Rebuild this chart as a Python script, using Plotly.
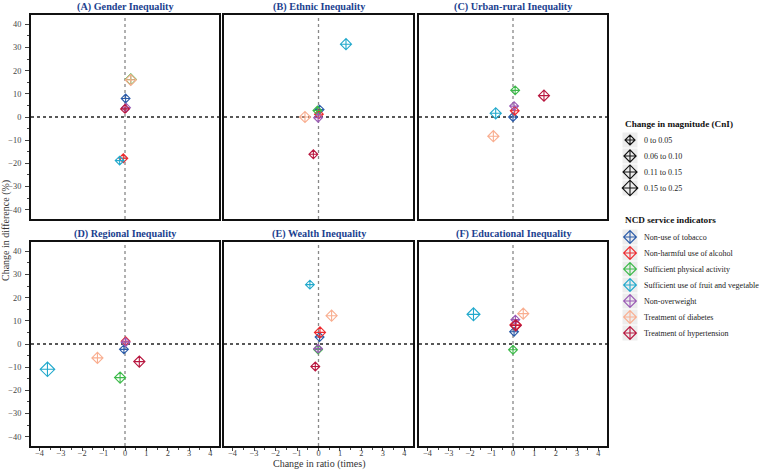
import plotly.graph_objects as go
from plotly.subplots import make_subplots

panels = ["(A) Gender Inequality", "(B) Ethnic Inequality", "(C) Urban-rural Inequality",
          "(D) Regional Inequality", "(E) Wealth Inequality", "(F) Educational Inequality"]

indicators = ["Non-use of tobacco", "Non-harmful use of alcohol", "Sufficient physical activity",
              "Sufficient use of fruit and vegetable", "Non-overweight", "Treatment of diabetes",
              "Treatment of hypertension"]
colors = ["#2B5BA8", "#EE2A2F", "#3DBA4A", "#22A9CC", "#9B5BB5", "#F9AE90", "#B8173F"]

size_labels = ["0 to 0.05", "0.06 to 0.10", "0.11 to 0.15", "0.15 to 0.25"]

# change in ratio (x) per indicator, per panel A..F
ratio = {
    "Non-use of tobacco":                    [0.03, 0.05, 0.00, -0.05, 0.05, 0.05],
    "Non-harmful use of alcohol":            [-0.08, 0.02, 0.08, 0.03, 0.07, 0.12],
    "Sufficient physical activity":          [0.27, -0.05, 0.10, -0.23, -0.02, 0.00],
    "Sufficient use of fruit and vegetable": [-0.25, 1.28, -0.81, -3.63, -0.40, -1.85],
    "Non-overweight":                        [0.05, -0.02, 0.05, 0.03, -0.02, 0.11],
    "Treatment of diabetes":                 [0.27, -0.63, -0.92, -1.29, 0.61, 0.48],
    "Treatment of hypertension":             [0.00, -0.24, 1.45, 0.67, -0.15, 0.13],
}
# change in difference (%) (y)
diff = {
    "Non-use of tobacco":                    [8.0, 3.2, 0.0, -2.3, 3.0, 5.3],
    "Non-harmful use of alcohol":            [-17.8, 1.2, 2.7, 1.2, 5.0, 8.3],
    "Sufficient physical activity":          [16.2, 2.8, 11.5, -14.5, -2.4, -2.5],
    "Sufficient use of fruit and vegetable": [-18.8, 31.4, 1.6, -10.9, 25.6, 12.8],
    "Non-overweight":                        [4.0, -0.3, 4.7, 0.8, -2.0, 10.5],
    "Treatment of diabetes":                 [16.0, 0.0, -8.3, -6.0, 12.2, 13.1],
    "Treatment of hypertension":             [3.5, -16.1, 9.2, -7.6, -9.7, 8.0],
}
# change in magnitude category (0..3)
magnitude = {
    "Non-use of tobacco":                    [0, 0, 0, 0, 0, 0],
    "Non-harmful use of alcohol":            [0, 0, 0, 0, 1, 1],
    "Sufficient physical activity":          [1, 0, 0, 1, 0, 0],
    "Sufficient use of fruit and vegetable": [0, 1, 1, 3, 0, 2],
    "Non-overweight":                        [0, 0, 0, 0, 0, 0],
    "Treatment of diabetes":                 [1, 1, 1, 1, 1, 1],
    "Treatment of hypertension":             [0, 0, 1, 1, 0, 1],
}

size_px = [6.8, 8.6, 10.0, 11.2]
legend_size_px = [7.7, 9.4, 10.8, 12.0]
SERIF = "Liberation Serif, Times New Roman, serif"

fig = make_subplots(rows=2, cols=3)

W, H = 762, 472
cols_px = [(31, 219), (224, 413), (419, 607)]
rows_px = [(15, 219), (242, 446)]

for i, name in enumerate(panels):
    r, c = divmod(i, 3)
    for k, ind in enumerate(indicators):
        fig.add_trace(go.Scatter(
            x=[ratio[ind][i]], y=[diff[ind][i]], mode="markers",
            name=ind, showlegend=False,
            marker=dict(symbol="diamond-cross-open", size=size_px[magnitude[ind][i]],
                        color=colors[k], line=dict(width=1.1, color=colors[k])),
        ), row=r + 1, col=c + 1)

annotations = []
for i, name in enumerate(panels):
    r, c = divmod(i, 3)
    idx = i + 1
    sfx = "" if idx == 1 else str(idx)
    x0, x1 = cols_px[c]
    y0, y1 = rows_px[r]
    fig.layout["xaxis" + sfx].update(
        domain=[x0 / W, x1 / W], range=[-4.4, 4.4], dtick=1, tick0=0, automargin=False,
        showline=True, mirror=True, linewidth=2, linecolor="#111",
        showgrid=False, zeroline=False,
        ticks="outside" if r == 1 else "", ticklen=3, tickcolor="#444",
        showticklabels=(r == 1), ticklabelstandoff=-5,
        minor=dict(dtick=0.5, ticklen=2, ticks="outside" if r == 1 else "", tickcolor="#444"),
        tickfont=dict(family=SERIF, size=8.3, color="#444"),
    )
    fig.layout["yaxis" + sfx].update(
        domain=[1 - y1 / H, 1 - y0 / H], range=[-44, 44], dtick=10, tick0=0, automargin=False,
        showline=True, mirror=True, linewidth=2, linecolor="#111",
        showgrid=False, zeroline=False,
        ticks="outside" if c == 0 else "", ticklen=4, tickcolor="#444",
        showticklabels=(c == 0), ticklabelstandoff=2,
        minor=dict(dtick=5, ticklen=2, ticks="outside" if c == 0 else "", tickcolor="#444"),
        tickfont=dict(family=SERIF, size=8.3, color="#444"),
    )
    fig.add_shape(type="line", x0=0, x1=0, y0=0, y1=1, xref="x" + sfx, yref="y" + sfx + " domain",
                  line=dict(color="#888", width=1.3, dash="dot"), layer="below")
    fig.add_shape(type="line", x0=0, x1=1, y0=0, y1=0, xref="x" + sfx + " domain", yref="y" + sfx,
                  line=dict(color="#222", width=1.3, dash="dot"), layer="below")
    annotations.append(dict(
        text=f"<b>{name}</b>", x=(x0 + x1) / 2 / W, y=1 - (y0 - 8) / H, xref="paper", yref="paper",
        showarrow=False, font=dict(family=SERIF, size=10.2, color="#1B3F8F"),
        xanchor="center", yanchor="middle"))

annotations.append(dict(text="Change in ratio (times)", x=318.5 / W, y=1 - 464 / H, xref="paper",
                        yref="paper", showarrow=False, xanchor="center", yanchor="middle",
                        font=dict(family=SERIF, size=10, color="#333")))
annotations.append(dict(text="Change in difference (%)", x=6 / W, y=1 - 231 / H, xref="paper",
                        yref="paper", showarrow=False, xanchor="center", yanchor="middle",
                        textangle=-90, font=dict(family=SERIF, size=10, color="#333")))

# ---- legend panel (hidden axis, 1 unit = 1 px, y measured from top) ----
LX0, LX1, LY0, LY1 = 612, 762, 100, 350
fig.update_layout(
    xaxis7=dict(domain=[LX0 / W, LX1 / W], range=[0, LX1 - LX0], visible=False, fixedrange=True,
                anchor="y7"),
    yaxis7=dict(domain=[1 - LY1 / H, 1 - LY0 / H], range=[LY1, LY0], visible=False, fixedrange=True,
                anchor="x7"),
)

key_x = 18
text_x = 30
title_x = 11
size_y = [140 + 16 * j for j in range(len(size_labels))]
ind_y = [237 + 16 * k for k in range(len(indicators))]

# grey key backgrounds
fig.add_trace(go.Scatter(x=[key_x] * (len(size_y) + len(ind_y)), y=size_y + ind_y, mode="markers",
                         xaxis="x7", yaxis="y7", showlegend=False, hoverinfo="skip",
                         marker=dict(symbol="square", size=15, color="#EDEDED", line=dict(width=0))))
for j, lab in enumerate(size_labels):
    fig.add_trace(go.Scatter(x=[key_x], y=[size_y[j]], mode="markers", xaxis="x7", yaxis="y7",
                             name=lab, showlegend=False,
                             marker=dict(symbol="diamond-cross-open", size=legend_size_px[j],
                                         color="#111", line=dict(width=1.1, color="#111"))))
    annotations.append(dict(text=lab, x=text_x, y=size_y[j], xref="x7", yref="y7", showarrow=False,
                            xanchor="left", yanchor="middle",
                            font=dict(family=SERIF, size=8, color="#222")))
for k, ind in enumerate(indicators):
    fig.add_trace(go.Scatter(x=[key_x], y=[ind_y[k]], mode="markers", xaxis="x7", yaxis="y7",
                             name=ind, showlegend=False,
                             marker=dict(symbol="diamond-cross-open", size=9.8,
                                         color=colors[k], line=dict(width=1.1, color=colors[k]))))
    annotations.append(dict(text=ind, x=text_x, y=ind_y[k], xref="x7", yref="y7", showarrow=False,
                            xanchor="left", yanchor="middle",
                            font=dict(family=SERIF, size=8, color="#222")))
annotations.append(dict(text="<b>Change in magnitude (CnI)</b>", x=title_x, y=124, xref="x7", yref="y7",
                        showarrow=False, xanchor="left", yanchor="middle",
                        font=dict(family=SERIF, size=9.2, color="#111")))
annotations.append(dict(text="<b>NCD service indicators</b>", x=title_x, y=220, xref="x7", yref="y7",
                        showarrow=False, xanchor="left", yanchor="middle",
                        font=dict(family=SERIF, size=9.2, color="#111")))

fig.update_layout(
    width=W, height=H, margin=dict(l=0, r=0, t=0, b=0, autoexpand=False),
    paper_bgcolor="white", plot_bgcolor="white",
    annotations=annotations, showlegend=False,
)

fig.write_html("out.html", config={"displayModeBar": False},
               post_script="document.body.style.margin='0';")
